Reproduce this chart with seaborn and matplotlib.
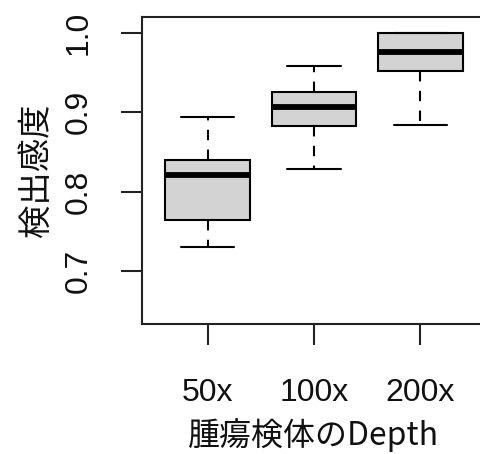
import numpy as np
import pandas as pd
import matplotlib.pyplot as plt
import seaborn as sns

sns.set_theme(style='white')
plt.rcParams['font.family'] = ['Liberation Sans', 'Noto Sans CJK JP', 'DejaVu Sans']

# five-number summaries (min, Q1, median, Q3, max)
depths = ['50x', '100x', '200x']
s50 = [0.730, 0.764, 0.821, 0.840, 0.894]
s100 = [0.829, 0.882, 0.906, 0.925, 0.958]
s200 = [0.884, 0.952, 0.976, 1.000, 1.000]

df = pd.DataFrame({
    'depth': np.repeat(depths, 5),
    'sens': s50 + s100 + s200,
})

fig = plt.figure(figsize=(4.81, 4.54), dpi=100)
ax = fig.add_axes([0.2952, 0.2863, 0.7152, 0.6763])

sns.boxplot(data=df, x='depth', y='sens', order=depths, ax=ax,
            width=0.8, whis=1.5, color='#d3d3d3', saturation=1,
            linecolor='black', linewidth=1.5, showfliers=False,
            capwidths=0.5,
            boxprops=dict(facecolor='#d3d3d3', edgecolor='black', linewidth=1.5),
            medianprops=dict(color='black', linewidth=4.2, solid_capstyle='butt'),
            whiskerprops=dict(color='black', linewidth=1.5, linestyle=(0, (5, 4.5))),
            capprops=dict(color='black', linewidth=1.5))

ax.set_xlim(-0.62, 2.62)
ax.set_ylim(0.633, 1.020)
ax.set_yticks([0.7, 0.8, 0.9, 1.0])
ax.set_yticklabels(['0.7', '0.8', '0.9', '1.0'], rotation=90, va='center')

for side in ['left', 'bottom', 'top']:
    ax.spines[side].set_visible(True)
    ax.spines[side].set_color('#222222')
    ax.spines[side].set_linewidth(1.5)
ax.spines['right'].set_visible(False)

ax.tick_params(axis='both', direction='out', length=15, width=1.5, color='#222222',
               labelsize=23, left=True, bottom=True, labelcolor='#111111')
ax.tick_params(axis='y', pad=20)
ax.tick_params(axis='x', pad=24)

ax.set_xlabel('腫瘍検体のDepth', fontsize=23, labelpad=7,
              family=['Noto Sans CJK JP', 'Liberation Sans'], color='#111111')
ax.set_ylabel('検出感度', fontsize=24, labelpad=7,
              family=['Noto Sans CJK JP', 'Liberation Sans'], color='#111111')

fig.savefig('out.png', dpi=100)
plt.close()
